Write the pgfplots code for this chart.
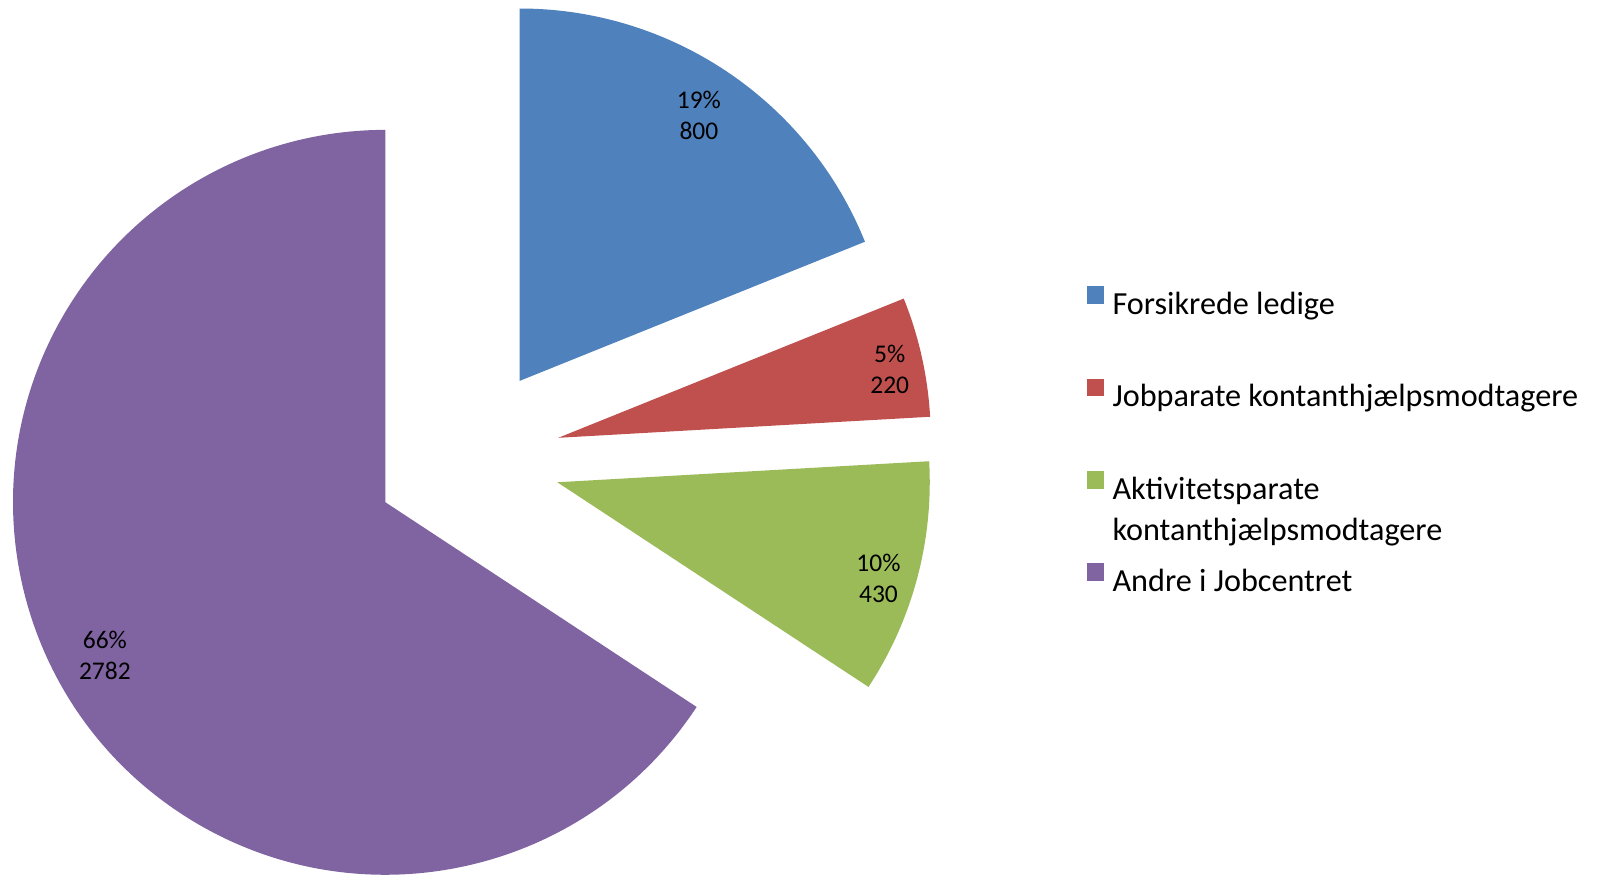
\documentclass[border=0pt]{standalone}
\usepackage{pgfplots}
\pgfplotsset{compat=1.18}
\usepackage{fontspec}
\setmainfont{Carlito}
\definecolor{cA}{HTML}{4F81BD}
\definecolor{cB}{HTML}{C0504D}
\definecolor{cC}{HTML}{9BBB59}
\definecolor{cD}{HTML}{8064A2}
% data
\def\vA{800}\def\vB{220}\def\vC{430}\def\vD{2782}
\pgfmathsetmacro\tot{\vA+\vB+\vC+\vD}
\pgfmathsetmacro\aA{90}
\pgfmathsetmacro\aB{\aA-360*(\vA/\tot)}
\pgfmathsetmacro\aC{\aB-360*(\vB/\tot)}
\pgfmathsetmacro\aD{\aC-360*(\vC/\tot)}
\pgfmathsetmacro\aE{\aD-360*(\vD/\tot)}
\pgfmathsetmacro\mA{(\aA+\aB)/2}
\pgfmathsetmacro\mB{(\aB+\aC)/2}
\pgfmathsetmacro\mC{(\aC+\aD)/2}
\pgfmathsetmacro\mD{(\aD+\aE)/2}
\def\ex{0.25}
\pgfmathsetmacro\xA{\ex*cos(\mA)}\pgfmathsetmacro\yA{\ex*sin(\mA)}
\pgfmathsetmacro\xB{\ex*cos(\mB)}\pgfmathsetmacro\yB{\ex*sin(\mB)}
\pgfmathsetmacro\xC{\ex*cos(\mC)}\pgfmathsetmacro\yC{\ex*sin(\mC)}
\pgfmathsetmacro\xD{\ex*cos(\mD)}\pgfmathsetmacro\yD{\ex*sin(\mD)}
\pgfmathsetmacro\lxA{\xA+0.861*cos(\mA)}\pgfmathsetmacro\lyA{\yA+0.861*sin(\mA)}
\pgfmathsetmacro\lxB{\xB+0.912*cos(\mB)}\pgfmathsetmacro\lyB{\yB+0.912*sin(\mB)-0.016}
\pgfmathsetmacro\lxC{\xC+0.898*cos(\mC)-0.005}\pgfmathsetmacro\lyC{\yC+0.898*sin(\mC)-0.026}
\pgfmathsetmacro\lxD{\xD+0.856*cos(\mD)}\pgfmathsetmacro\lyD{\yD+0.856*sin(\mD)-0.004}
\pgfmathtruncatemacro\pA{round(100*(\vA/\tot))}
\pgfmathtruncatemacro\pB{round(100*(\vB/\tot))}
\pgfmathtruncatemacro\pC{round(100*(\vC/\tot))}
\pgfmathtruncatemacro\pD{round(100*(\vD/\tot))}
\def\R{3.7cm}
\tikzset{lbl/.style={font=\fontsize{7.2}{8.7}\selectfont, align=center, inner sep=0pt}}
\begin{document}
\begin{tikzpicture}
\begin{axis}[
  x=3.7cm, y=3.7cm,
  xmin=-1.255, xmax=3.041, ymin=-1.121, ymax=1.230,
  hide axis, clip=false,
  legend image code/.code={\fill[#1] (0pt,0.6pt) rectangle (4.6pt,5.2pt);},
  legend style={draw=none, fill=none, at={(axis cs:1.661,0.463)}, anchor=north west,
    inner sep=0pt, font=\fontsize{9.1}{11.6}\selectfont, row sep=16.2pt,
    nodes={inner sep=0pt, text height=7pt, text depth=2pt},
    /tikz/every odd column/.append style={column sep=2.3pt}},
  legend cell align=left,
]
\fill[cA] (axis cs:\xA,\yA) -- ++(\aA:\R) arc[start angle=\aA, end angle=\aB, radius=\R] -- cycle;
\fill[cB] (axis cs:\xB,\yB) -- ++(\aB:\R) arc[start angle=\aB, end angle=\aC, radius=\R] -- cycle;
\fill[cC] (axis cs:\xC,\yC) -- ++(\aC:\R) arc[start angle=\aC, end angle=\aD, radius=\R] -- cycle;
\fill[cD] (axis cs:\xD,\yD) -- ++(\aD:\R) arc[start angle=\aD, end angle=\aE, radius=\R] -- cycle;
\node[lbl] at (axis cs:\lxA,\lyA) {\pA\%\\\vA};
\node[lbl] at (axis cs:\lxB,\lyB) {\pB\%\\\vB};
\node[lbl] at (axis cs:\lxC,\lyC) {\pC\%\\\vC};
\node[lbl] at (axis cs:\lxD,\lyD) {\pD\%\\\vD};
\addlegendimage{cA}
\addlegendentry{Forsikrede ledige}
\addlegendimage{cB}
\addlegendentry{Jobparate kontanthjælpsmodtagere}
\addlegendimage{cC}
\addlegendentry{\parbox[t]{5cm}{Aktivitetsparate\\kontanthjælpsmodtagere}}
\addlegendimage{cD}
\addlegendentry{Andre i Jobcentret}
\end{axis}
\pgfresetboundingbox
\useasboundingbox (current axis.south west) rectangle (current axis.north east);
\end{tikzpicture}
\end{document}
